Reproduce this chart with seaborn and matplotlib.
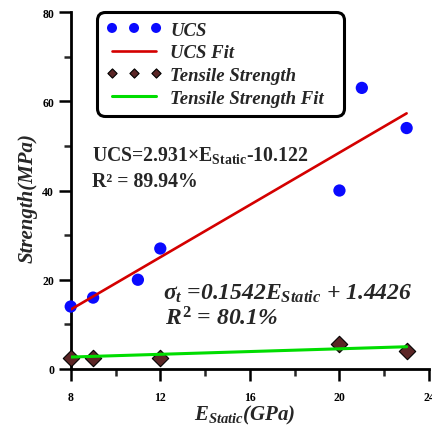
import numpy as np
import pandas as pd
import matplotlib
matplotlib.use("Agg")
import matplotlib.pyplot as plt
from matplotlib.ticker import MultipleLocator
import seaborn as sns

# Static modulus (GPa) and measured strengths (MPa)
e_ucs = [8, 9, 11, 12, 20, 21, 23]
ucs = [14, 16, 20, 27, 40, 63, 54]
e_tensile = [8, 9, 12, 20, 23]
tensile = [2.4, 2.4, 2.5, 5.6, 4.1]

# Linear fit coefficients (slope, intercept)
ucs_fit = (2.931, -10.122)
tensile_fit = (0.1542, 1.4426)

x_ticks = [8, 12, 16, 20, 24]
y_ticks = [0, 20, 40, 60, 80]

sns.set_style("ticks")
plt.rcParams["font.family"] = ["Liberation Serif", "DejaVu Serif"]
plt.rcParams["font.weight"] = "bold"
plt.rcParams["mathtext.fontset"] = "custom"
plt.rcParams["mathtext.rm"] = "Liberation Serif:bold"
plt.rcParams["mathtext.it"] = "Liberation Serif:italic:bold"
plt.rcParams["mathtext.bf"] = "Liberation Serif:bold"

fig = plt.figure(figsize=(4.32, 4.27), dpi=100)
ax = fig.add_axes([0.1637, 0.1335, 0.8294, 0.836])

df_ucs = pd.DataFrame({"E": e_ucs, "UCS": ucs})
df_ts = pd.DataFrame({"E": e_tensile, "TS": tensile})

fx_u = np.array([min(e_ucs), max(e_ucs)], dtype=float)
fit_u = pd.DataFrame({"E": fx_u, "y": ucs_fit[0] * fx_u + ucs_fit[1]})
fx_t = np.array([min(e_tensile), max(e_tensile)], dtype=float)
fit_t = pd.DataFrame({"E": fx_t, "y": tensile_fit[0] * fx_t + tensile_fit[1]})

sns.scatterplot(data=df_ucs, x="E", y="UCS", ax=ax, color="#0a0aff", s=78,
                marker="o", edgecolor="none", label="UCS", clip_on=False,
                zorder=3, legend=False)
sns.lineplot(data=fit_u, x="E", y="y", ax=ax, color="#d40000", lw=1.9,
             label="UCS Fit", zorder=4, legend=False)
sns.scatterplot(data=df_ts, x="E", y="TS", ax=ax, color="#5b2626", s=70,
                marker="D", edgecolor="black", linewidth=0.8,
                label="Tensile Strength", clip_on=False, zorder=3, legend=False)
sns.lineplot(data=fit_t, x="E", y="y", ax=ax, color="#00dd00", lw=2.2,
             label="Tensile Strength Fit", zorder=4, legend=False)

ax.set_xlim(8, 24)
ax.set_ylim(0, 80)
ax.set_xticks(x_ticks)
ax.set_yticks(y_ticks)
ax.xaxis.set_minor_locator(MultipleLocator(2))
ax.yaxis.set_minor_locator(MultipleLocator(10))
for s in ["top", "right"]:
    ax.spines[s].set_visible(False)
for s in ["left", "bottom"]:
    ax.spines[s].set_linewidth(2.0)
    ax.spines[s].set_color("black")
ax.tick_params(axis="both", which="major", length=8.5, width=1.8,
               direction="out", labelsize=8.5, colors="black")
ax.tick_params(axis="both", which="minor", length=5, width=1.8,
               direction="out")
ax.tick_params(axis="x", which="major", pad=7)
ax.tick_params(axis="y", which="major", pad=3.5)
for lab in ax.get_xticklabels() + ax.get_yticklabels():
    lab.set_fontweight("bold")

ax.set_xlabel(r"$E_{Static}$(GPa)", fontsize=15, fontweight="bold",
              fontstyle="italic")
ax.set_ylabel("Strength(MPa)", fontsize=15, fontweight="bold",
              fontstyle="italic")
ax.yaxis.label.set_va("center")
ax.yaxis.set_label_coords(-0.1206, 0.482)
ax.xaxis.set_label_coords(0.4865, -0.095)

ax.text(0.0594, 0.586, r"UCS=2.931×$\mathrm{E_{Static}}$-10.122",
        transform=ax.transAxes, fontsize=14.2, fontweight="bold",
        va="baseline", ha="left")
ax.text(0.0594, 0.513, "R² = 89.94%", transform=ax.transAxes,
        fontsize=14.2, fontweight="bold", va="baseline", ha="left")
ax.text(0.2576, 0.196, r"$\sigma_t$ =0.1542$E_{Static}$ + 1.4426",
        transform=ax.transAxes, fontsize=17, fontweight="bold",
        fontstyle="italic", va="baseline", ha="left")
ax.text(0.263, 0.126, r"$R^2$ = 80.1%", transform=ax.transAxes,
        fontsize=17, fontweight="bold", fontstyle="italic",
        va="baseline", ha="left")

handles, labels = ax.get_legend_handles_labels()
order = ["UCS", "UCS Fit", "Tensile Strength", "Tensile Strength Fit"]
hmap = dict(zip(labels, handles))
x0, x1 = 97 / 432, 344 / 432
y_top = 1 - 13 / 427
leg = ax.legend([hmap[k] for k in order], order, loc="upper left",
                bbox_to_anchor=(x0, y_top - 0.01, x1 - x0, 0.01),
                bbox_transform=fig.transFigure, borderaxespad=0,
                mode="expand",
                scatterpoints=3, scatteryoffsets=[0.5], numpoints=3,
                handlelength=2.95, handletextpad=0.45, labelspacing=0.3,
                borderpad=0.5, frameon=True, fancybox=True,
                prop={"family": "Liberation Serif", "weight": "bold",
                      "style": "italic", "size": 13.5})
# smaller symbols inside the legend box
leg.legend_handles[0].set_sizes([52])
leg.legend_handles[2].set_sizes([22])
frame = leg.get_frame()
frame.set_edgecolor("black")
frame.set_linewidth(2.2)
frame.set_alpha(1)
frame.set_boxstyle("round,pad=0,rounding_size=0.45")

fig.savefig("out.png", dpi=100)
